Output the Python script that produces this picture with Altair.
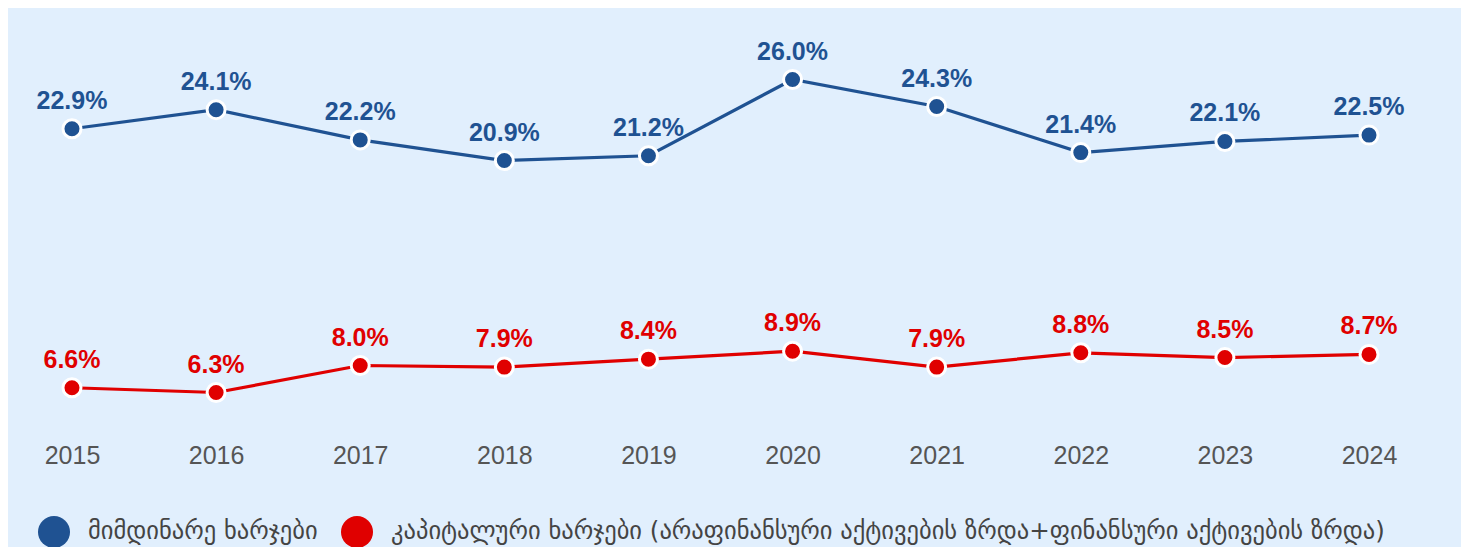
import altair as alt
import pandas as pd

years = ["2015", "2016", "2017", "2018", "2019", "2020", "2021", "2022", "2023", "2024"]
current = [22.9, 24.1, 22.2, 20.9, 21.2, 26.0, 24.3, 21.4, 22.1, 22.5]
capital = [6.6, 6.3, 8.0, 7.9, 8.4, 8.9, 7.9, 8.8, 8.5, 8.7]
series_names = [
    "მიმდინარე ხარჯები",
    "კაპიტალური ხარჯები (არაფინანსური აქტივების ზრდა+ფინანსური აქტივების ზრდა)",
]
colors = ["#1F5292", "#E00000"]

rows = []
for y, v in zip(years, current):
    rows.append({"year": y, "value": v, "series": series_names[0], "label": f"{v:.1f}%"})
for y, v in zip(years, capital):
    rows.append({"year": y, "value": v, "series": series_names[1], "label": f"{v:.1f}%"})
df = pd.DataFrame(rows)

x = alt.X("year:O", scale=alt.Scale(padding=0.444),
          axis=alt.Axis(title=None, labelAngle=0, domain=False, ticks=False, grid=False,
                        labelFontSize=25, labelColor="#555555", labelFont="Liberation Sans",
                        labelPadding=6))
y = alt.Y("value:Q", scale=alt.Scale(domain=[3.5, 30.5], nice=False, zero=False), axis=None)
color_scale = alt.Scale(domain=series_names, range=colors)
legend = alt.Legend(title=None, orient="none", legendX=30, legendY=508,
                    direction="horizontal", symbolType="circle",
                    symbolSize=1024, symbolStrokeWidth=0, symbolOpacity=1,
                    labelFontSize=24.5, labelFont="DejaVu Sans",
                    labelColor="#444444", labelLimit=2000, labelOffset=18,
                    columnPadding=23, padding=0)
color = alt.Color("series:N", scale=color_scale, legend=legend)

base = alt.Chart(df)

lines = base.mark_line(strokeWidth=3.2).encode(x=x, y=y, color=color, detail="series:N")
points = base.mark_circle(size=324, opacity=1, stroke="white", strokeWidth=3).encode(
    x=x, y=y, color=color)
labels = base.mark_text(fontSize=25, fontWeight="bold", font="Liberation Sans",
                        baseline="alphabetic", dy=-20).encode(
    x=x, y=y, text="label:N", color=color)

chart = alt.layer(lines, points, labels).properties(
    width=1425, height=429,
    autosize=alt.AutoSizeParams(type="none"),
    padding={"left": 0, "top": 0, "right": 28, "bottom": 110},
    background="#E1EFFD",
).configure_view(stroke=None)

chart.save("out.html", embed_options={"renderer": "svg", "actions": False})
